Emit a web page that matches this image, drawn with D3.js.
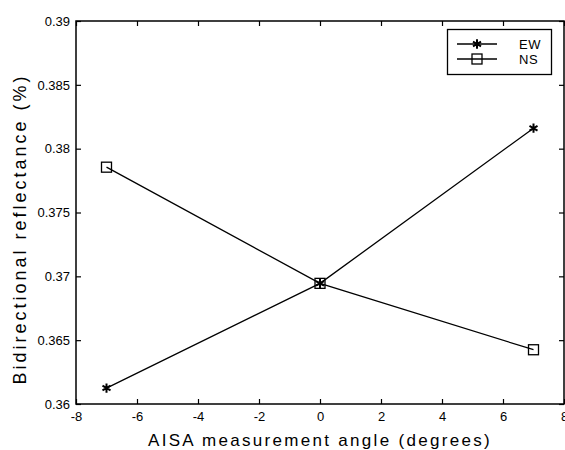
<!DOCTYPE html>
<html>
<head>
<meta charset="utf-8">
<script src="https://cdn.jsdelivr.net/npm/d3@7"></script>
<style>
  body { margin: 0; background: #fff; }
  svg { display: block; }
</style>
</head>
<body>
<div id="chart"></div>
<script>
"use strict";

const angles = [-7, 0, 7];
const ew_values = [0.36125, 0.36945, 0.3816];
const ns_values = [0.37855, 0.36945, 0.36425];
const x_ticks = [-8, -6, -4, -2, 0, 2, 4, 6, 8];
const y_ticks = [0.36, 0.365, 0.37, 0.375, 0.38, 0.385, 0.39];

let font = "'Liberation Sans', Arial, sans-serif";
let width = 565, height = 450;
let margin = {top: 21, right: 1, bottom: 46, left: 76};

const svg = d3.select("#chart").append("svg")
    .attr("width", width)
    .attr("height", height);

let x = d3.scaleLinear([-8, 8], [margin.left, width - margin.right]);
let y = d3.scaleLinear([0.36, 0.39], [height - margin.bottom, margin.top]);

// frame
svg.append("rect")
    .attr("x", x(-8)).attr("y", y(0.39))
    .attr("width", x(8) - x(-8)).attr("height", y(0.36) - y(0.39))
    .attr("fill", "none").attr("stroke", "#000").attr("stroke-width", 1.5);

function style_axis(g) {
    g.select(".domain").remove();
    g.selectAll(".tick line").attr("stroke", "#000").attr("stroke-width", 1.2);
    g.selectAll(".tick text")
        .style("font-family", font)
        .style("font-size", "13px")
        .attr("fill", "#000");
}

svg.append("g")
    .attr("transform", `translate(0,${y(0.36)})`)
    .call(d3.axisBottom(x).tickValues(x_ticks).tickSize(-5).tickPadding(8).tickFormat(d => String(d)))
    .call(style_axis);
svg.append("g")
    .attr("transform", `translate(0,${y(0.39)})`)
    .call(d3.axisTop(x).tickValues(x_ticks).tickSize(-5).tickFormat(""))
    .call(style_axis);
svg.append("g")
    .attr("transform", `translate(${x(-8)},0)`)
    .call(d3.axisLeft(y).tickValues(y_ticks).tickSize(-5).tickPadding(6).tickFormat(d => String(+d.toFixed(3))))
    .call(style_axis);
svg.append("g")
    .attr("transform", `translate(${x(8)},0)`)
    .call(d3.axisRight(y).tickValues(y_ticks).tickSize(-5).tickFormat(""))
    .call(style_axis);

// series
let line = d3.line().x(d => x(d[0])).y(d => y(d[1]));
const ew = angles.map((a, i) => [a, ew_values[i]]);
const ns = angles.map((a, i) => [a, ns_values[i]]);

[ew, ns].forEach(s => svg.append("path")
    .datum(s)
    .attr("d", line)
    .attr("fill", "none")
    .attr("stroke", "#000")
    .attr("stroke-width", 1.3));

let star = d3.symbol().type(d3.symbolAsterisk).size(60);
function draw_star(g, cx, cy) {
    g.append("path")
        .attr("d", star())
        .attr("transform", `translate(${cx},${cy})`)
        .attr("fill", "none").attr("stroke", "#000").attr("stroke-width", 2);
}
function draw_square(g, cx, cy) {
    g.append("rect")
        .attr("x", cx - 5).attr("y", cy - 5)
        .attr("width", 10).attr("height", 10)
        .attr("fill", "none").attr("stroke", "#000").attr("stroke-width", 1.3);
}

ns.forEach(d => draw_square(svg, x(d[0]), y(d[1])));
ew.forEach(d => draw_star(svg, x(d[0]), y(d[1])));

// legend
const lg = svg.append("g");
lg.append("rect")
    .attr("x", 447.5).attr("y", 29.5).attr("width", 104).attr("height", 45)
    .attr("fill", "#fff").attr("stroke", "#000").attr("stroke-width", 1.3);
[["EW", 44], ["NS", 59]].forEach(([name, ly]) => {
    lg.append("line")
        .attr("x1", 457).attr("x2", 497).attr("y1", ly).attr("y2", ly)
        .attr("stroke", "#000").attr("stroke-width", 1.3);
    if (name === "EW") draw_star(lg, 477, ly);
    else draw_square(lg, 477, ly);
    lg.append("text")
        .attr("x", 519).attr("y", ly).attr("dy", "0.35em")
        .style("font-family", font).style("font-size", "13px")
        .style("letter-spacing", "0.5px")
        .text(name);
});

// axis titles
svg.append("text")
    .attr("x", (x(-8) + x(8)) / 2).attr("y", 446)
    .attr("text-anchor", "middle")
    .style("font-family", font).style("font-size", "17px")
    .style("letter-spacing", "2.3px")
    .text("AISA measurement angle (degrees)");
svg.append("text")
    .attr("transform", `translate(26,229) rotate(-90)`)
    .attr("text-anchor", "middle")
    .style("font-family", font).style("font-size", "18px")
    .style("letter-spacing", "3px")
    .text("Bidirectional reflectance (%)");
</script>
</body>
</html>
